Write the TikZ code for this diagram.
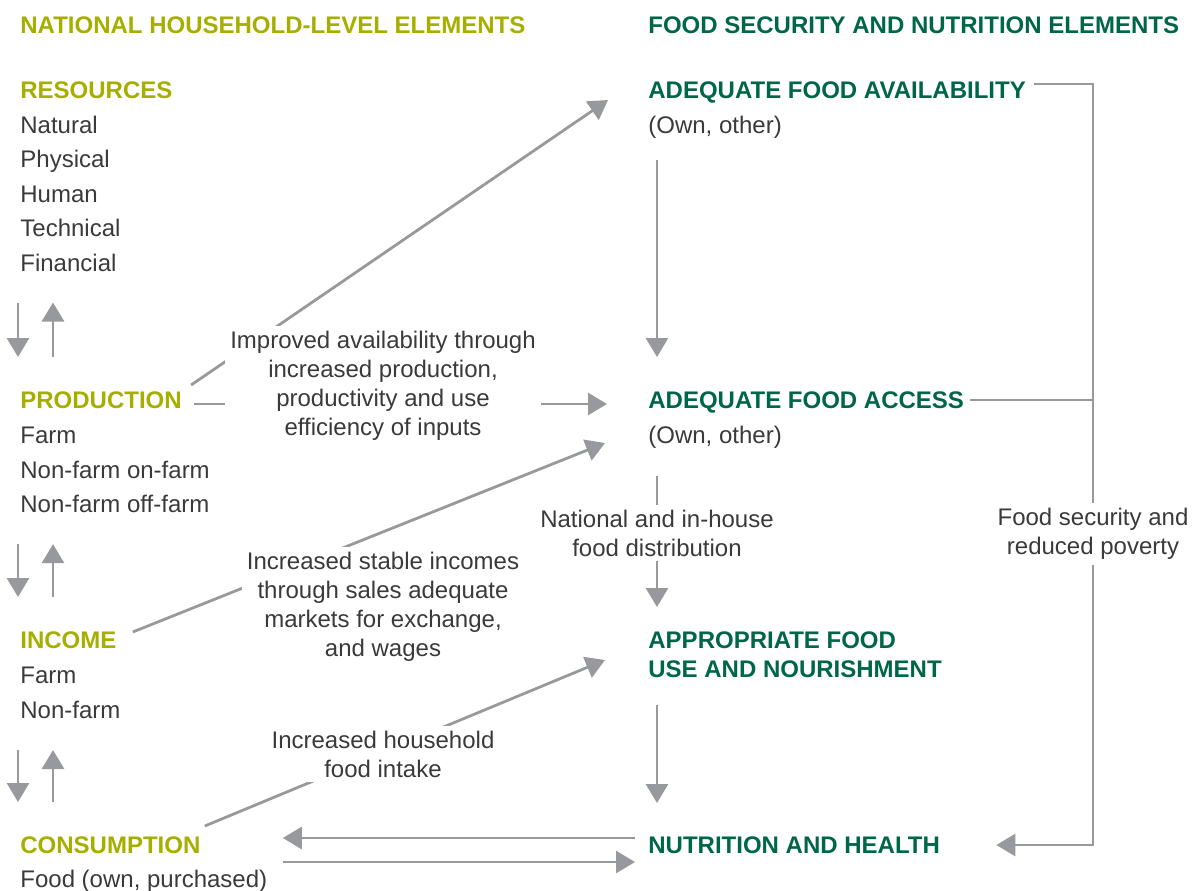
\documentclass[tikz,border=0pt]{standalone}
\usepackage{fontspec}
\setmainfont{Liberation Sans}
\usetikzlibrary{arrows.meta,backgrounds}
\definecolor{olivehead}{RGB}{166,174,0}
\definecolor{greenhead}{RGB}{0,102,72}
\definecolor{linegray}{RGB}{152,153,157}
\definecolor{textgray}{RGB}{58,58,58}
\newcommand{\figfont}{\fontsize{12}{14.5}\selectfont}

\tikzset{
	headL/.style={anchor=west, inner sep=0pt, text height=8.6pt, text depth=0pt, text=olivehead, font=\figfont\bfseries},
	headR/.style={headL, text=greenhead},
	item/.style={anchor=west, inner sep=0pt, text height=8.6pt, text depth=0pt, text=textgray, font=\figfont},
	note/.style={align=center, fill=white, inner sep=2.5pt, text=textgray, font=\figfont},
	conn/.style={draw=linegray, line width=1.4pt},
	arr/.style={conn, -{Triangle[width=11pt,length=9.5pt]}}
}

% pair of arrows between two blocks of the left column
\newcommand{\updown}[2]{
	\draw[arr] ([shift={(-2,31)}]#1.south west) -- ([shift={(-2,-34)}]#2.north west);
	\draw[arr] ([shift={(33,-34)}]#2.north west) -- ([shift={(33,31)}]#1.south west);
}

\begin{document}
\begin{tikzpicture}[x=0.5pt, y=-0.5pt]
	\useasboundingbox (0,0) rectangle (1192,890);
	% Cột trái
	\node[headL] (hdL) at (20,25) {NATIONAL HOUSEHOLD-LEVEL ELEMENTS};
	\node[headL] (res) at (20,90) {RESOURCES};
	\foreach \t[count=\i from 1] in {Natural,Physical,Human,Technical,Financial}
	\node[item] (res\i) at (20,90+34.5*\i) {\t};
	\node[headL] (prod) at (20,400) {PRODUCTION};
	\foreach \t[count=\i from 1] in {Farm,Non-farm on-farm,Non-farm off-farm}
	\node[item] (prod\i) at (20,400+34.7*\i) {\t};
	\node[headL] (inc) at (20,640) {INCOME};
	\foreach \t[count=\i from 1] in {Farm,Non-farm}
	\node[item] (inc\i) at (20,640+35*\i) {\t};
	\node[headL] (cons) at (20,845) {CONSUMPTION};
	\node[item] (cons1) at (20,879) {Food (own, purchased)};
	
	% Cột phải
	\node[headR] (hdR) at (648,25) {FOOD SECURITY AND NUTRITION ELEMENTS};
	\node[headR] (avail) at (648,90) {ADEQUATE FOOD AVAILABILITY};
	\node[item] (avail1) at (648,125) {(Own, other)};
	\node[headR] (access) at (648,400) {ADEQUATE FOOD ACCESS};
	\node[item] (access1) at (648,435) {(Own, other)};
	\node[headR] (use1) at (648,640) {APPROPRIATE FOOD};
	\node[headR] (use2) at (648,669) {USE AND NOURISHMENT};
	\node[headR] (nut) at (648,845) {NUTRITION AND HEALTH};
	
	% Nhãn
	\node[note] (improve) at (383,386) {Improved availability through\\increased production,\\productivity and use\\efficiency of inputs};
	\node[note] (income) at (383,607) {Increased stable incomes\\through sales adequate\\markets for exchange,\\and wages};
	\node[note] (intake) at (383,754) {Increased household\\food intake};
	\node[note] (distr) at (657,533) {National and in-house\\food distribution};
	\node[note] (secure) at (1093,534) {Food security and\\reduced poverty};
	\coordinate (rail) at (1093,0);
	
	% Mũi tên
	\begin{pgfonlayer}{background}
		\updown{res5}{prod}
		\updown{prod3}{inc}
		\updown{inc2}{cons}
		
		\draw[arr] ([shift={(9,-15)}]prod.east) -- ([shift={(-40,10)}]avail.west);
		\draw[arr] ([shift={(12,4)}]prod.east) -- ([shift={(-41,4)}]access.west);
		\draw[arr] ([shift={(16,-8)}]inc.east) -- ([shift={(-43,8)}]access1.west);
		\draw[arr] ([shift={(4,-19)}]cons.east) -- ([shift={(-43,-9)}]use2.west);
		\draw[arr] ([shift={(-13,-7)}]nut.west) -- ([shift={(82,-7)}]cons.east);
		\draw[arr] ([shift={(82,17)}]cons.east) -- ([shift={(-13,17)}]nut.west);
		
		\draw[arr] ([shift={(9,26)}]avail1.south west) -- ([shift={(9,-34)}]access.north west);
		\draw[arr] ([shift={(9,32)}]access1.south west) -- ([shift={(9,-24)}]use1.north west);
		\draw[arr] ([shift={(9,27)}]use2.south west) -- ([shift={(9,-33)}]nut.north west);
		
		\draw[arr] ([shift={(8,-6)}]avail.east) -| (rail |- nut.east) -- ([xshift=28]nut.east);
		\draw[conn] ([xshift=3]access.east) -- (rail |- access.east);
	\end{pgfonlayer}
\end{tikzpicture}
\end{document}
